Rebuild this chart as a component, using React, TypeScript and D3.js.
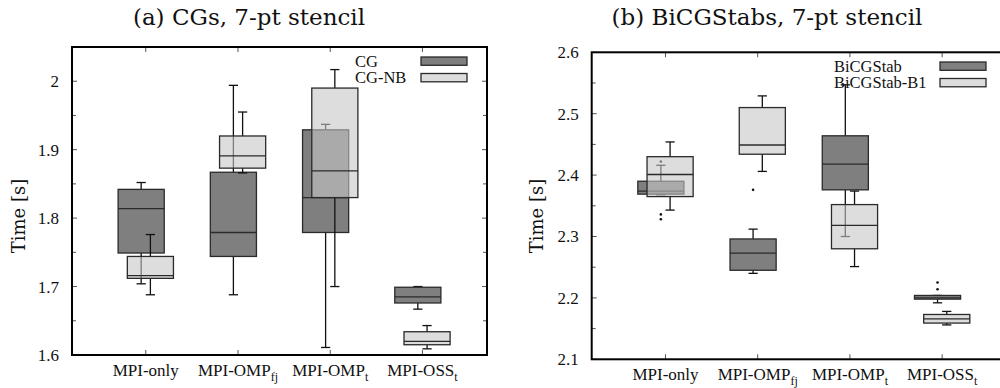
import React from "react";
import * as d3 from "d3";

// ---------- data ----------
const categories = ["MPI-only", "MPI-OMP", "MPI-OMP", "MPI-OSS"];
const categorySubs = ["", "fj", "t", "t"];

// each box: [lower whisker, q1, median, q3, upper whisker]
const cgBoxes = [
  [1.704, 1.749, 1.814, 1.842, 1.852],
  [1.688, 1.744, 1.779, 1.867, 1.994],
  [1.611, 1.779, 1.83, 1.929, 1.937],
  [1.667, 1.676, 1.685, 1.699, 1.7],
];
const cgNbBoxes = [
  [1.688, 1.712, 1.716, 1.744, 1.776],
  [1.866, 1.873, 1.891, 1.92, 1.955],
  [1.7, 1.83, 1.869, 1.99, 2.017],
  [1.609, 1.615, 1.62, 1.634, 1.643],
];
const cgOutliers: number[][] = [[], [], [], []];
const cgNbOutliers: number[][] = [[], [], [], []];

const bicgBoxes = [
  [2.368, 2.369, 2.374, 2.39, 2.416],
  [2.24, 2.245, 2.273, 2.296, 2.312],
  [2.3, 2.376, 2.418, 2.464, 2.547],
  [2.192, 2.198, 2.2, 2.204, 2.204],
];
const bicgB1Boxes = [
  [2.343, 2.365, 2.401, 2.43, 2.454],
  [2.406, 2.434, 2.449, 2.51, 2.529],
  [2.251, 2.28, 2.318, 2.352, 2.374],
  [2.156, 2.159, 2.166, 2.173, 2.178],
];
const bicgOutliers: number[][] = [[2.422, 2.336, 2.328], [2.376], [], [2.225, 2.214]];
const bicgB1Outliers: number[][] = [[], [], [], []];

const yTicksA = [1.6, 1.7, 1.8, 1.9, 2.0];
const yTickLabelsA = ["1.6", "1.7", "1.8", "1.9", "2"];
const yTicksB = [2.1, 2.2, 2.3, 2.4, 2.5, 2.6];
const yTickLabelsB = ["2.1", "2.2", "2.3", "2.4", "2.5", "2.6"];

const seriesNamesA = ["CG", "CG-NB"];
const seriesNamesB = ["BiCGStab", "BiCGStab-B1"];

// ---------- styles ----------
const DARK_FILL = "#7f7f7f";
const LIGHT_FILL = "rgb(198,198,198)";
const LIGHT_OPACITY = 0.6;
const EDGE = "#2a2a2a";
const TIMES = "'Liberation Serif', 'Times New Roman', serif";
const CM = "'DejaVu Serif', serif";

type Cfg = {
  title: string;
  titleX: number;
  left: number;
  top: number;
  bottom: number;
  yDomain: [number, number];
  yTicks: number[];
  yTickLabels: string[];
  minorStep: number;
  series: { boxes: number[][]; outliers: number[][]; fill: string; opacity: number; offset: number }[];
  names: string[];
  legendTextX: number;
  legendSwatchX: number;
  legendY: number;
  labelX: number;
};

function Panel({ cfg }: { cfg: Cfg }) {
  const x = d3.scaleLinear().domain([0.2, 4.7]).range([cfg.left, cfg.left + 415]);
  const y = d3.scaleLinear().domain(cfg.yDomain).range([cfg.bottom, cfg.top]);
  const right = x(4.7);
  const halfW = x(0.25) - x(0);
  const capW = x(0.05) - x(0);
  const minor: number[] = [];
  for (let v = cfg.yDomain[0] + cfg.minorStep; v < cfg.yDomain[1] - 1e-6; v += cfg.minorStep * 2) minor.push(v);

  const renderSeries = (s: Cfg["series"][number], si: number) => (
    <g key={si}>
      {s.boxes.map((b, i) => {
        const cx = x(i + 1 + s.offset);
        const [lo, q1, med, q3, hi] = b;
        return (
          <g key={i}>
            <line x1={cx} x2={cx} y1={y(q3)} y2={y(hi)} stroke="#111" strokeWidth={1.3} />
            <line x1={cx - capW} x2={cx + capW} y1={y(hi)} y2={y(hi)} stroke="#111" strokeWidth={1.3} />
            <line x1={cx} x2={cx} y1={y(q1)} y2={y(lo)} stroke="#111" strokeWidth={1.3} />
            <line x1={cx - capW} x2={cx + capW} y1={y(lo)} y2={y(lo)} stroke="#111" strokeWidth={1.3} />
            <rect
              x={cx - halfW}
              y={y(q3)}
              width={2 * halfW}
              height={y(q1) - y(q3)}
              fill={s.fill}
              fillOpacity={s.opacity}
              stroke={EDGE}
              strokeWidth={1.3}
            />
            <line x1={cx - halfW} x2={cx + halfW} y1={y(med)} y2={y(med)} stroke={EDGE} strokeWidth={1.3} />
            {s.outliers[i].map((o, k) => (
              <circle key={k} cx={cx} cy={y(o)} r={1.3} fill="#111" />
            ))}
          </g>
        );
      })}
    </g>
  );

  return (
    <g>
      <text x={cfg.titleX} y={25} textAnchor="middle" fontFamily={CM} fontSize={23} fill="#111">
        {cfg.title}
      </text>
      <text
        transform={`translate(${cfg.labelX},216) rotate(-90)`}
        textAnchor="middle"
        fontFamily={CM}
        fontSize={18}
        fill="#111"
      >
        Time [s]
      </text>
      {cfg.yTicks.map((t, i) => (
        <g key={"yt" + i}>
          <line x1={cfg.left} x2={cfg.left + 5} y1={y(t)} y2={y(t)} stroke="#555" />
          <line x1={right} x2={right - 5} y1={y(t)} y2={y(t)} stroke="#555" />
          <text x={cfg.left - 13} y={y(t)} dy="0.35em" textAnchor="end" fontFamily={TIMES} fontSize={17} fill="#111">
            {cfg.yTickLabels[i]}
          </text>
        </g>
      ))}
      {minor.map((t, i) => (
        <g key={"ym" + i}>
          <line x1={cfg.left} x2={cfg.left + 4} y1={y(t)} y2={y(t)} stroke="#555" />
          <line x1={right} x2={right - 4} y1={y(t)} y2={y(t)} stroke="#555" />
        </g>
      ))}
      {categories.map((c, i) => {
        const cx = x(i + 1);
        return (
          <g key={"xc" + i}>
            <line x1={cx} x2={cx} y1={cfg.bottom} y2={cfg.bottom - 5} stroke="#555" />
            <line x1={cx} x2={cx} y1={cfg.top} y2={cfg.top + 5} stroke="#555" />
            <text x={cx} y={cfg.bottom + 21} textAnchor="middle" fontFamily={TIMES} fontSize={17} fill="#111">
              {c}
              {categorySubs[i] && (
                <tspan fontSize={12} dy={5}>
                  {categorySubs[i]}
                </tspan>
              )}
            </text>
          </g>
        );
      })}
      {cfg.series.map(renderSeries)}
      {cfg.names.map((n, i) => {
        const ly = cfg.legendY + i * 16.5;
        const s = cfg.series[i];
        return (
          <g key={"lg" + i}>
            <text x={cfg.legendTextX} y={ly + 5.5} fontFamily={TIMES} fontSize={16.5} fill="#111">
              {n}
            </text>
            <rect
              x={cfg.legendSwatchX}
              y={ly - 4}
              width={46}
              height={8.3}
              fill={s.fill}
              fillOpacity={s.opacity}
              stroke={EDGE}
              strokeWidth={1.3}
            />
          </g>
        );
      })}
      <rect x={cfg.left} y={cfg.top} width={right - cfg.left} height={cfg.bottom - cfg.top} fill="none" stroke="#000" strokeWidth={2} />
    </g>
  );
}

const panelA: Cfg = {
  title: "(a) CGs, 7-pt stencil",
  titleX: 249,
  left: 72,
  top: 47,
  bottom: 355,
  yDomain: [1.6, 2.05],
  yTicks: yTicksA,
  yTickLabels: yTickLabelsA,
  minorStep: 0.05,
  series: [
    { boxes: cgBoxes, outliers: cgOutliers, fill: DARK_FILL, opacity: 1, offset: -0.05 },
    { boxes: cgNbBoxes, outliers: cgNbOutliers, fill: LIGHT_FILL, opacity: LIGHT_OPACITY, offset: 0.05 },
  ],
  names: seriesNamesA,
  legendTextX: 355,
  legendSwatchX: 421,
  legendY: 61,
  labelX: 25,
};

const panelB: Cfg = {
  title: "(b) BiCGStabs, 7-pt stencil",
  titleX: 767,
  left: 591.7,
  top: 52.3,
  bottom: 359.3,
  yDomain: [2.1, 2.6],
  yTicks: yTicksB,
  yTickLabels: yTickLabelsB,
  minorStep: 0.05,
  series: [
    { boxes: bicgBoxes, outliers: bicgOutliers, fill: DARK_FILL, opacity: 1, offset: -0.05 },
    { boxes: bicgB1Boxes, outliers: bicgB1Outliers, fill: LIGHT_FILL, opacity: LIGHT_OPACITY, offset: 0.05 },
  ],
  names: seriesNamesB,
  legendTextX: 834,
  legendSwatchX: 940,
  legendY: 66,
  labelX: 543,
};

export default function App() {
  return (
    <svg width={1000} height={388} style={{ position: "absolute", left: 0, top: 0, background: "#fff" }}>
      <rect width={1000} height={388} fill="#fff" />
      <Panel cfg={panelA} />
      <Panel cfg={panelB} />
    </svg>
  );
}
